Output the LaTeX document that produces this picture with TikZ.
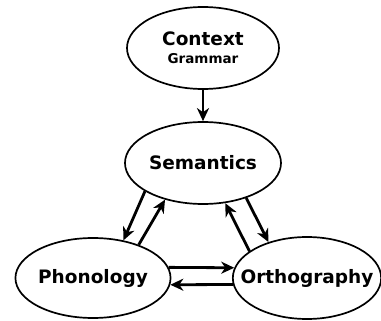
\documentclass[tikz,border=0pt]{standalone}
\usepackage{fontspec}
\setmainfont{DejaVu Sans}
\usepackage{tikz}
\usetikzlibrary{shapes.geometric, arrows.meta, positioning}
\tikzstyle{arrow} = [line width=2.8pt,-{Stealth[length=13pt,width=12pt,inset=4pt]}]
\tikzstyle{bubble} = [ellipse, draw=black, line width=1.7pt, minimum width=152pt, minimum height=82pt, inner sep=0pt, align=center]
\newcommand\smalltext{\fontsize{13.5}{15}\selectfont}

\begin{document}
\begin{tikzpicture}[node distance=115pt, font=\bfseries\fontsize{18.5}{21}\selectfont]
\useasboundingbox (0,0) rectangle (381pt,-321pt);
% Placement of the four bubbles
\node (ctx) [bubble] at (203pt,-48pt) {Context\\[-3pt]{\smalltext Grammar}};
\node (sem) [bubble, below of = ctx, minimum width=156pt] {Semantics};
\node (pho) [bubble, below of = sem, xshift=-110pt, minimum height=80pt] {Phonology};
\node (ort) [bubble, below of = sem, xshift=104pt, minimum width=147pt, inner xsep=-14pt] {Orthography};% squeeze the text box

% Drawing of arrows
\draw [arrow] (ctx.south) -- (sem.north);
\draw [arrow] (sem.206) -- (pho.51);
\draw [arrow] (pho.36) -- (sem.224);
\draw [arrow] (ort.155) -- (sem.299);
\draw [arrow] (sem.321) -- (ort.137);
\draw [arrow] (pho.8) -- (ort.172);
\draw [arrow] (ort.185) -- (pho.355);

\end{tikzpicture}
\end{document}
